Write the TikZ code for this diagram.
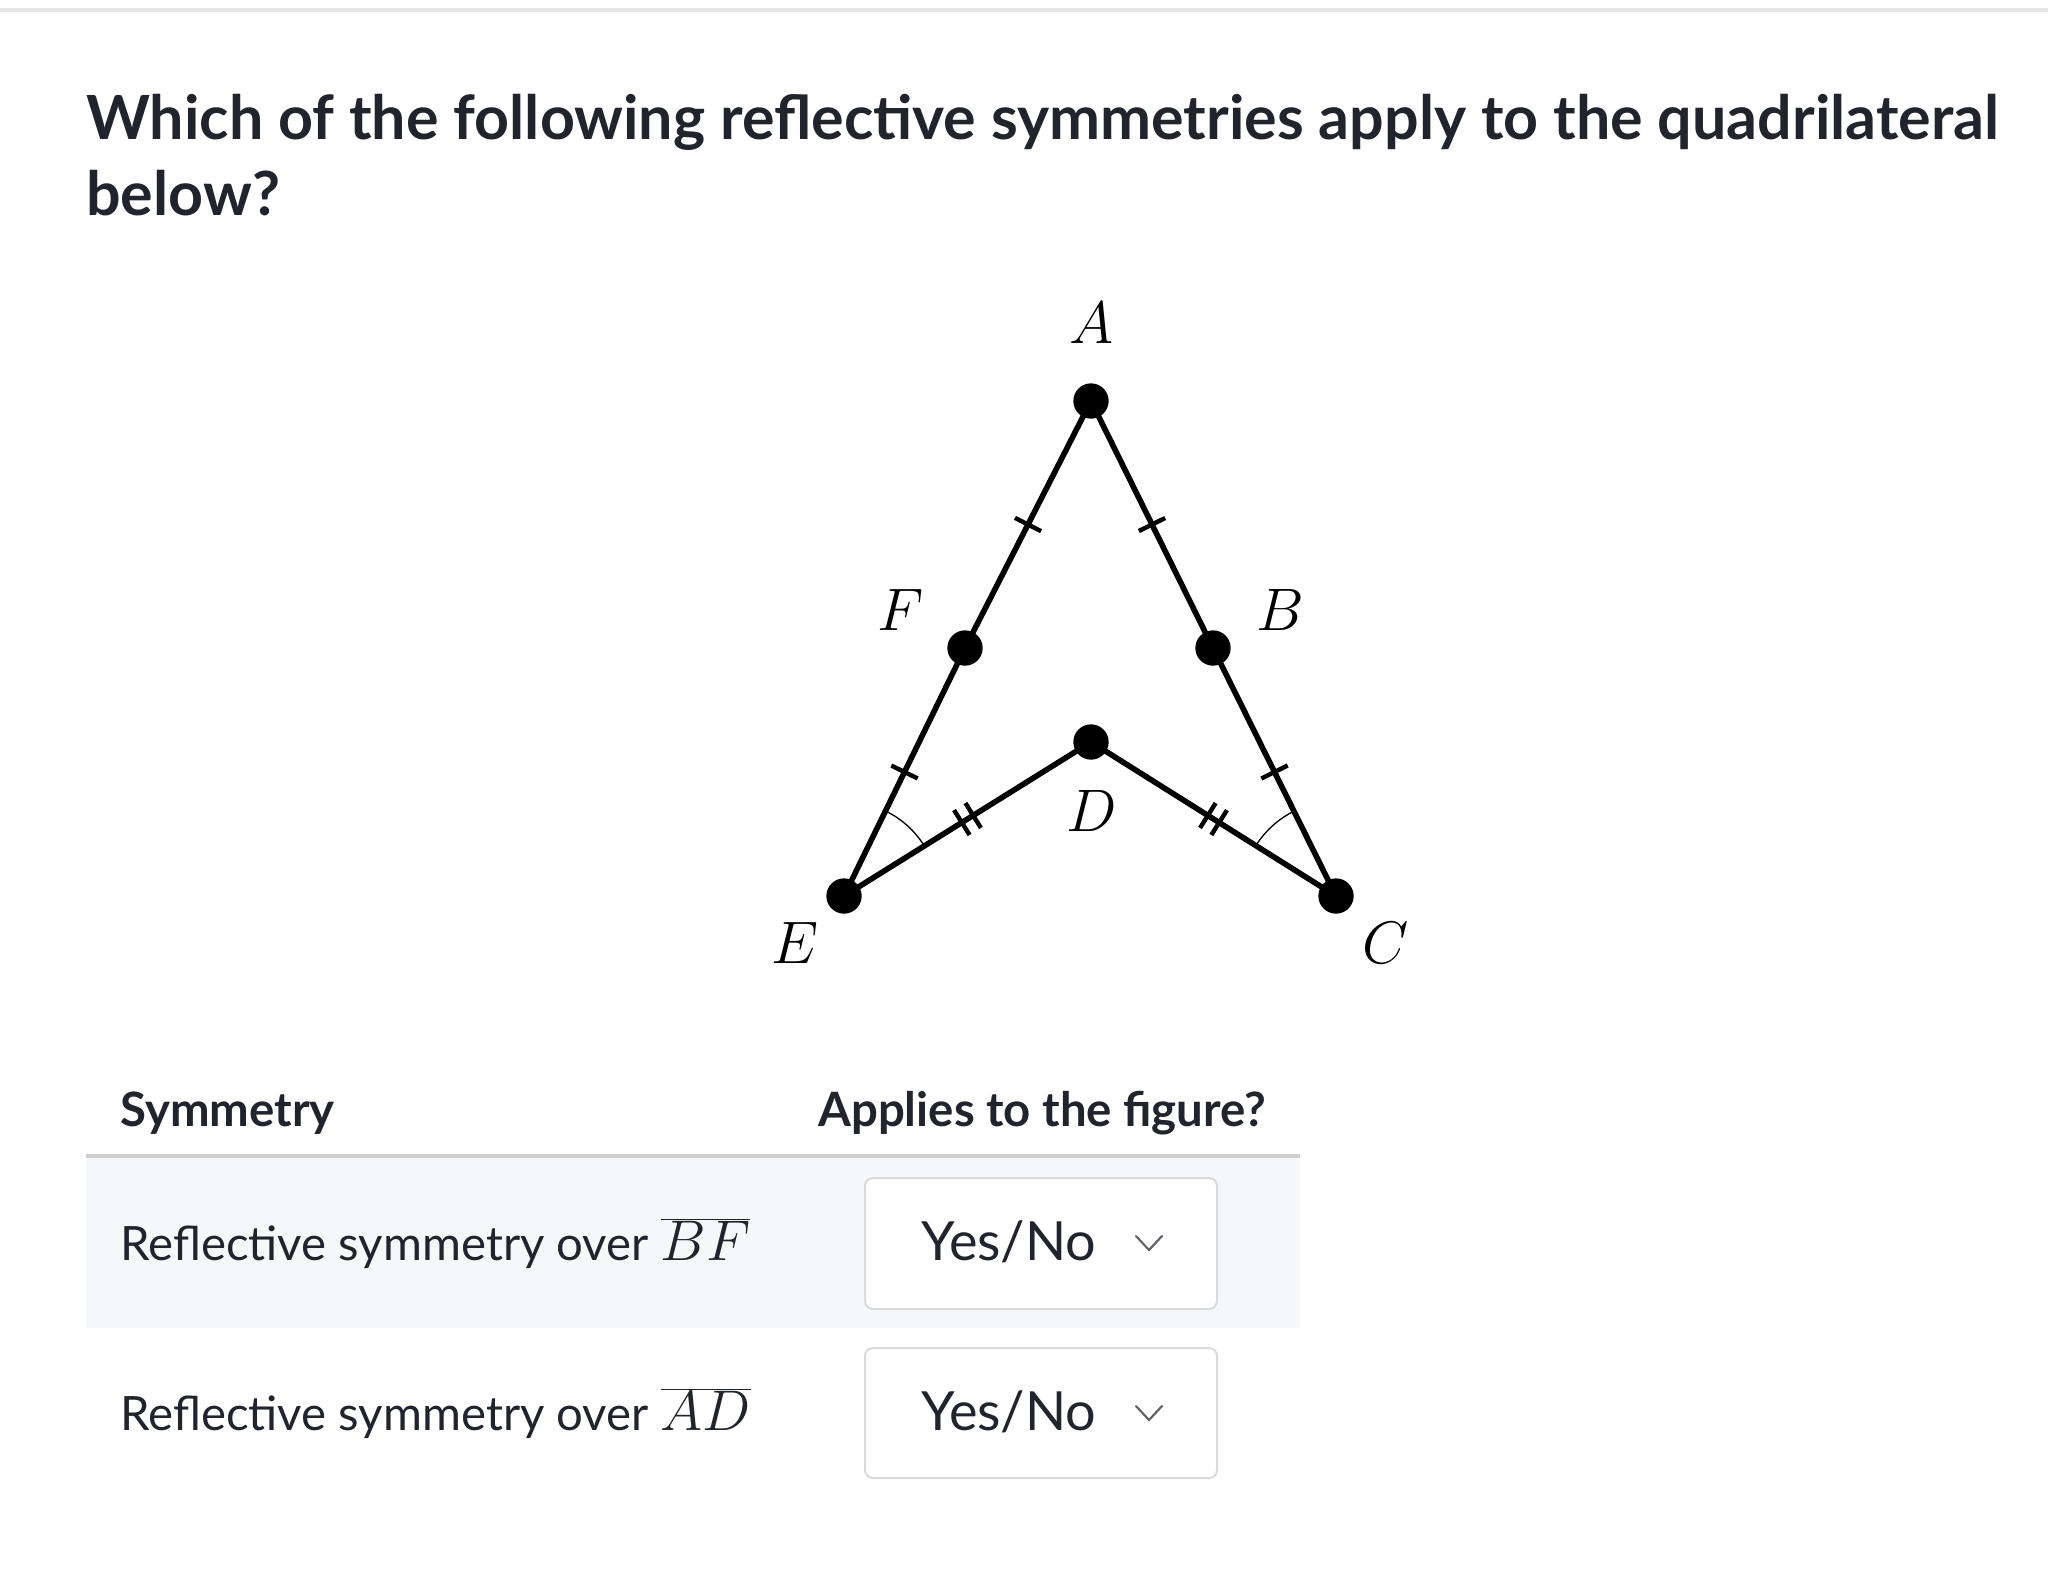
\RequirePackage{fix-cm}
\documentclass[tikz,border=0pt]{standalone}
\usepackage{fontspec}
\setmainfont{Lato}
\usetikzlibrary{calc,angles}
\definecolor{ink}{HTML}{21242C}
\definecolor{rowbg}{HTML}{F6F7F8}
\definecolor{rulegray}{HTML}{CFCFCF}
\definecolor{topgray}{HTML}{E6E6E6}
\definecolor{boxgray}{HTML}{D9DADC}
\definecolor{chevgray}{HTML}{5F6368}
\tikzset{
 titletext/.style={anchor=base west, inner sep=0pt, text=ink, font=\fontsize{45.7}{54}\selectfont\bfseries},
 headtext/.style={anchor=base west, inner sep=0pt, text=ink, font=\fontsize{35.5}{42}\selectfont\bfseries},
 bodytext/.style={anchor=base west, inner sep=0pt, text=ink, font=\fontsize{35.5}{42}\selectfont},
 choicetext/.style={anchor=base west, inner sep=0pt, text=ink, font=\fontsize{40.5}{48}\selectfont},
 ptlabel/.style={inner sep=0pt, text=black, font=\fontsize{45}{54}\selectfont},
 vertex/.style={circle, fill=black, inner sep=0pt, minimum size=26.5pt},
 edge/.style={line width=4.2pt},
 tickmark/.style={line width=3.3pt},
 anglearc/.style={draw, line width=1pt, angle radius=71pt},
 dropbox/.style={draw=boxgray, fill=white, rounded corners=6pt, line width=1.5pt},
 chevron/.style={draw=chevgray, line width=1.6pt},
}
\newcommand{\bigmath}[1]{{\fontsize{43}{50}\selectfont$#1$}}
\begin{document}
\begin{tikzpicture}[x=0.75pt,y=-0.75pt]
\useasboundingbox (0,0) rectangle (2048,1568);
\fill[white] (0,0) rectangle (2048,1568);
% top border
\draw[topgray, line width=2.5pt] (0,10) -- (2048,10);
% title
\node[titletext] (title1) at (86,139) {Which of the following reflective symmetries apply to the quadrilateral};
\node[titletext] (title2) at (86,215) {below?};
% figure
\coordinate (pA) at (1091,401);
\coordinate (pF) at (965,648);
\coordinate (pB) at (1213,648);
\coordinate (pD) at (1091,742);
\coordinate (pE) at (844,896);
\coordinate (pC) at (1336,896);
\draw[edge, line join=round] (pA) -- (pF) -- (pE) -- (pD) -- (pC) -- (pB) -- cycle;
% single ticks
\foreach \p/\q in {pA/pF, pF/pE, pA/pB, pB/pC}{
  \draw[tickmark] ($(\p)!0.5!(\q)!11pt!90:(\q)$) -- ($(\p)!0.5!(\q)!11pt!-90:(\q)$);
}
% double ticks
\foreach \p/\q in {pE/pD, pC/pD}{
  \draw[tickmark] ($(\p)!0.5!(\q)!-5pt!(\q)!11pt!90:(\q)$) -- ($(\p)!0.5!(\q)!-5pt!(\q)!11pt!-90:(\q)$);
  \draw[tickmark] ($(\p)!0.5!(\q)!5pt!(\q)!11pt!90:(\q)$) -- ($(\p)!0.5!(\q)!5pt!(\q)!11pt!-90:(\q)$);
}
% angle arcs
\pic[anglearc] {angle = pD--pE--pF};
\pic[anglearc] {angle = pB--pC--pD};
% vertices
\node[vertex] (A) at (pA) {};
\node[vertex] (F) at (pF) {};
\node[vertex] (B) at (pB) {};
\node[vertex] (D) at (pD) {};
\node[vertex] (E) at (pE) {};
\node[vertex] (C) at (pC) {};
% labels
\node[ptlabel] (lA) at (1092,323) {$A$};
\node[ptlabel] (lF) at (901,610) {$F$};
\node[ptlabel] (lB) at (1280,610) {$B$};
\node[ptlabel] (lD) at (1092,811) {$D$};
\node[ptlabel] (lE) at (795,943) {$E$};
\node[ptlabel] (lC) at (1386,943) {$C$};
% table
\node[headtext] (h1) at (120,1126) {Symmetry};
\node[headtext] (h2) at (818,1126) {Applies to the figure?};
\fill[rowbg] (86,1158) rectangle (1300,1328);
\draw[rulegray, line width=3pt] (86,1156) -- (1300,1156);
\node[bodytext] (r1) at (120,1260) {Reflective symmetry over \bigmath{\overline{BF}}};
\node[bodytext] (r2) at (120,1430) {Reflective symmetry over \bigmath{\overline{AD}}};
\draw[dropbox] (865,1178) rectangle (1217,1309);
\draw[dropbox] (865,1348) rectangle (1217,1478);
\node[choicetext] (c1) at (921,1260) {Yes/No};
\node[choicetext] (c2) at (921,1430) {Yes/No};
\draw[chevron, line join=round, line cap=round] (1136,1236) -- (1149,1250) -- (1162,1236);
\draw[chevron, line join=round, line cap=round] (1136,1406) -- (1149,1420) -- (1162,1406);
\end{tikzpicture}
\end{document}
